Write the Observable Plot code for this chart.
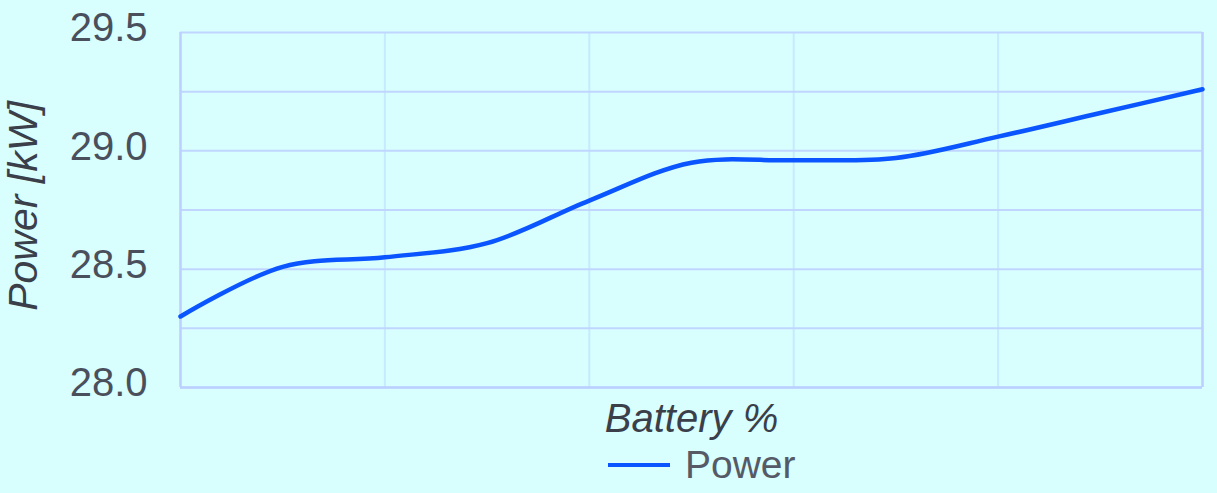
<!DOCTYPE html>
<html>
<head>
<meta charset="utf-8">
<script src="https://cdn.jsdelivr.net/npm/d3@7"></script>
<script src="https://cdn.jsdelivr.net/npm/@observablehq/plot@0.6"></script>
<style>
  html, body { margin: 0; padding: 0; background: #d8fefe; width: 1217px; height: 493px; overflow: hidden; }
  #legend { height: 53px; display: flex; justify-content: flex-start; align-items: flex-start; font-family: Arial, "Liberation Sans", sans-serif; font-size: 39px; color: #555a66; }
  #legend .item { display: flex; align-items: center; margin-left: 608px; margin-top: 3px; }
  #legend .swatch { width: 62px; height: 4px; background: #0a55ff; margin-right: 15px; }
</style>
</head>
<body>
<div id="chart"></div>
<div id="legend"><div class="item"><div class="swatch"></div><span id="legendText"></span></div></div>
<script>
const battery = [0, 10, 20, 30, 40, 50, 60, 70, 80, 90, 100];
const power = [28.30, 28.51, 28.55, 28.61, 28.79, 28.95, 28.96, 28.97, 29.06, 29.16, 29.26];
const yTicks = [28.0, 28.5, 29.0, 29.5];
const yGrid = [28.0, 28.25, 28.5, 28.75, 29.0, 29.25, 29.5];
const xGrid = [0, 20, 40, 60, 80, 100];
const seriesName = "Power";
const xLabel = "Battery %";
const yLabel = "Power [kW]";

const data = battery.map((b, i) => ({battery: b, power: power[i]}));

const chart = Plot.plot({
  width: 1217,
  height: 440,
  marginTop: 32,
  marginBottom: 53,
  marginLeft: 180,
  marginRight: 15,
  style: {background: "#d8fefe", fontFamily: "Arial, 'Liberation Sans', sans-serif"},
  x: {domain: [0, 100], axis: null},
  y: {domain: [28, 29.5], axis: null},
  marks: [
    Plot.ruleX(xGrid, {stroke: "#c6ebff", strokeWidth: 2}),
    Plot.ruleY(yGrid, {stroke: "#c0d6ff", strokeWidth: 2}),
    Plot.ruleX([0, 100], {stroke: "#bcd0ff", strokeWidth: 2.5}),
    Plot.ruleY([28], {stroke: "#bcd0ff", strokeWidth: 2.5}),
    Plot.line(data, {x: "battery", y: "power", stroke: "#0a55ff", strokeWidth: 4.5, curve: "catmull-rom"}),
    Plot.axisY(yTicks, {tickSize: 0, tickPadding: 33, tickFormat: d3.format(".1f"), fontSize: 40, fill: "#4a4f5c", dy: -4, label: null}),
    Plot.text([yLabel], {frameAnchor: "left", textAnchor: "middle", dx: -157, dy: -4, rotate: -90, fontSize: 41, fontStyle: "italic", fill: "#3a3f4a"}),
    Plot.text([xLabel], {frameAnchor: "bottom", dy: 32, fontSize: 40, fontStyle: "italic", fill: "#3a3f4a", lineAnchor: "middle"})
  ]
});
document.getElementById("chart").appendChild(chart);
document.getElementById("legendText").textContent = seriesName;
</script>
</body>
</html>
